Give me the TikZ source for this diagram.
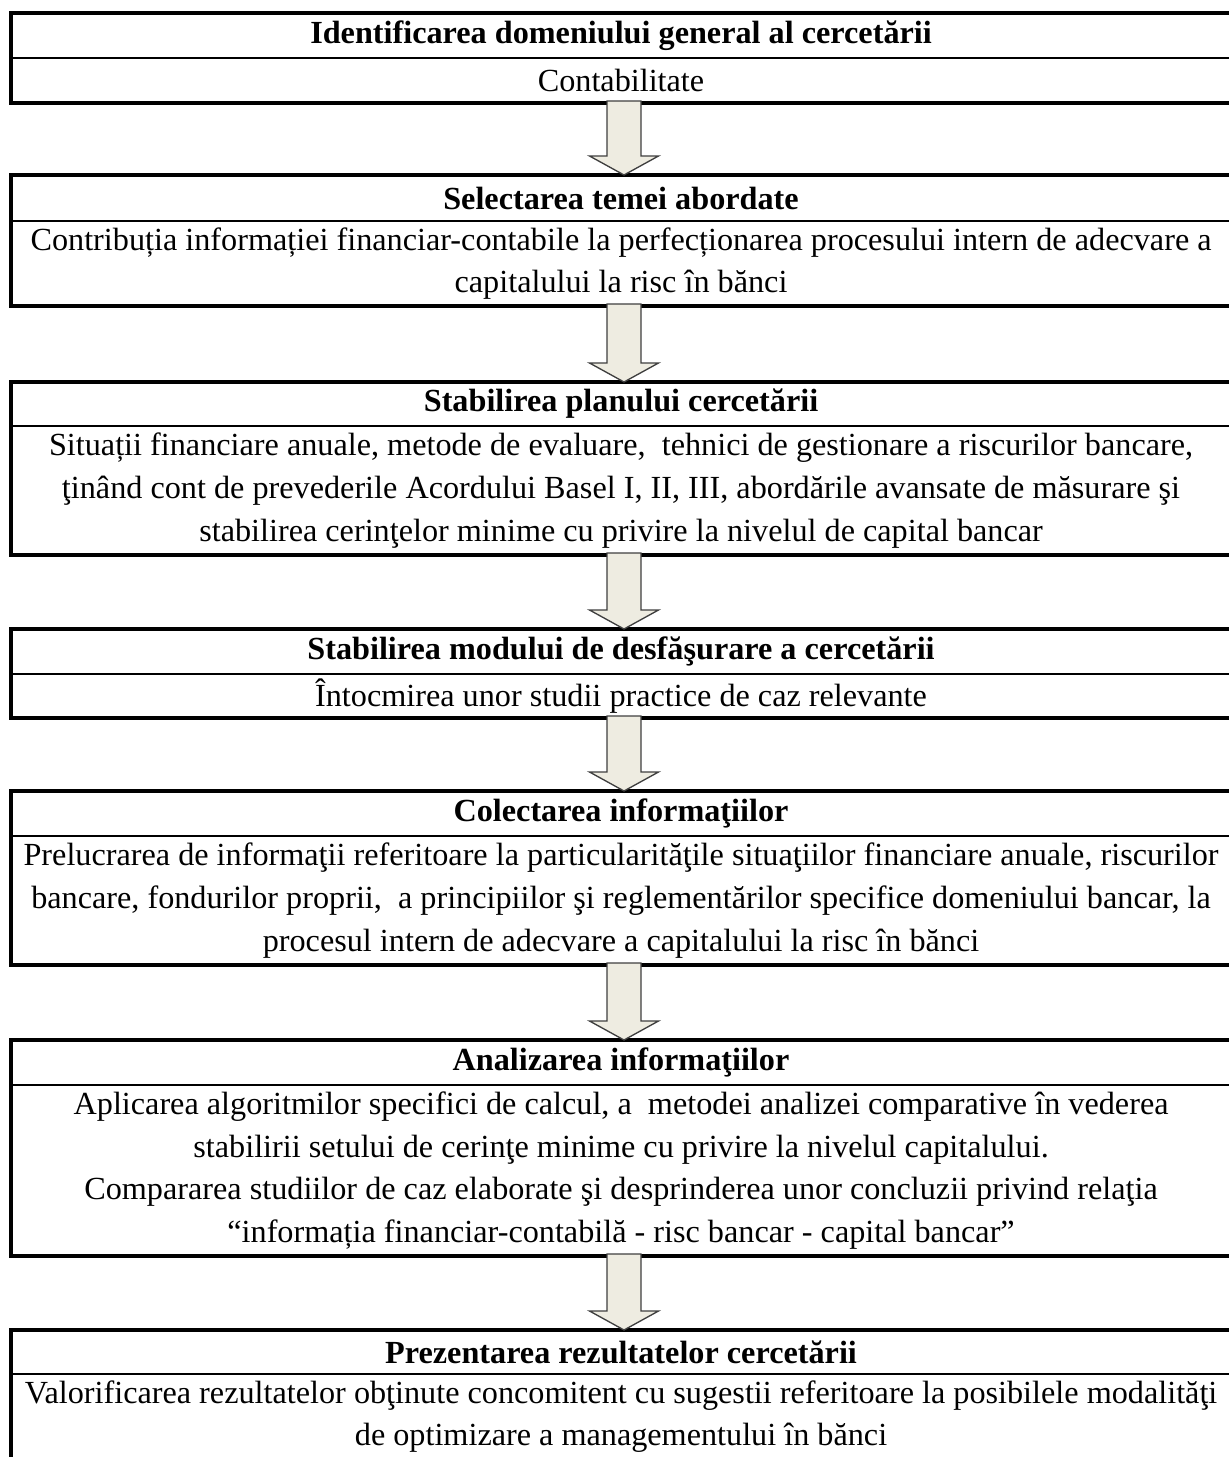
\documentclass[tikz,border=0pt]{standalone}
\usepackage{fontspec}
\setmainfont{Liberation Serif}
\usetikzlibrary{calc}
\definecolor{arrowfill}{HTML}{EEECE1}
\definecolor{arrowline}{HTML}{3F3F3F}
% block arrow from the bottom of one box to the top of the next
\newcommand{\blockarrow}[2]{%
  \draw[blockarr] ($(#1)+(-17,-2)$) -- ($(#2)+(-17,-19)$) -- ($(#2)+(-34.5,-19)$)
    -- (#2) -- ($(#2)+(34.5,-19)$) -- ($(#2)+(17,-19)$) -- ($(#1)+(17,-2)$) -- cycle;}
\tikzset{
  frame/.style={line width=1.5pt},
  midrule/.style={line width=0.75pt},
  hdr/.style={font=\fontsize{12.08}{16}\selectfont\bfseries, inner sep=0pt},
  txt/.style={font=\fontsize{12.08}{16}\selectfont, align=center, inner sep=0pt},
  blockarr/.style={draw=arrowline, fill=arrowfill, line width=0.5pt}
}
\begin{document}
\begin{tikzpicture}[x=0.375pt, y=-0.375pt]
  \useasboundingbox (0,0) rectangle (1229,1457);
  \clip (0,0) rectangle (1229,1457);

  % boxes
  \draw[frame] (11,13) rectangle (1250,103);
  \draw[midrule] (11,58) -- (1250,58);
  \draw[frame] (11,175) rectangle (1250,306);
  \draw[midrule] (11,221) -- (1250,221);
  \draw[frame] (11,382) rectangle (1250,555);
  \draw[midrule] (11,426) -- (1250,426);
  \draw[frame] (11,629) rectangle (1250,718);
  \draw[midrule] (11,674) -- (1250,674);
  \draw[frame] (11,791) rectangle (1250,965);
  \draw[midrule] (11,836) -- (1250,836);
  \draw[frame] (11,1040) rectangle (1250,1256);
  \draw[midrule] (11,1085) -- (1250,1085);
  \draw[frame] (1250,1330) -- (11,1330) -- (11,1480);
  \draw[midrule] (11,1374) -- (1250,1374);

  % texts
  \node[hdr] (h1) at (621,35.5) {Identificarea domeniului general al cercetării};
  \node[txt] (b1) at (621,80.5) {Contabilitate};
  \node[hdr] (h2) at (621,198) {Selectarea temei abordate};
  \node[txt] (b2) at (621,263.5) {Contribuția informației financiar-contabile la perfecționarea procesului intern de adecvare a\\capitalului la risc în bănci};
  \node[hdr] (h3) at (621,404) {Stabilirea planului cercetării};
  \node[txt] (b3) at (621,490.5) {Situații financiare anuale, metode de evaluare, \ tehnici de gestionare a riscurilor bancare,\\ţinând cont de prevederile Acordului Basel I, II, III, abordările avansate de măsurare şi\\stabilirea cerinţelor minime cu privire la nivelul de capital bancar};
  \node[hdr] (h4) at (621,651.5) {Stabilirea modului de desfăşurare a cercetării};
  \node[txt] (b4) at (621,696) {Întocmirea unor studii practice de caz relevante};
  \node[hdr] (h5) at (621,813.5) {Colectarea informaţiilor};
  \node[txt] (b5) at (621,900.5) {Prelucrarea de informaţii referitoare la particularităţile situaţiilor financiare anuale, riscurilor\\bancare, fondurilor proprii, \ a principiilor şi reglementărilor specifice domeniului bancar, la\\procesul intern de adecvare a capitalului la risc în bănci};
  \node[hdr] (h6) at (621,1062.5) {Analizarea informaţiilor};
  \node[txt] (b6) at (621,1170.5) {Aplicarea algoritmilor specifici de calcul, a \ metodei analizei comparative în vederea\\stabilirii setului de cerinţe minime cu privire la nivelul capitalului.\\Compararea studiilor de caz elaborate şi desprinderea unor concluzii privind relaţia\\“informația financiar-contabilă - risc bancar - capital bancar”};
  \node[hdr] (h7) at (621,1352) {Prezentarea rezultatelor cercetării};
  \node[txt] (b7) at (621,1416.5) {Valorificarea rezultatelor obţinute concomitent cu sugestii referitoare la posibilele modalităţi\\de optimizare a managementului în bănci};

  % arrow ends
  \coordinate (e1) at (624,103);
  \coordinate (s2) at (624,175);
  \coordinate (e2) at (624,306);
  \coordinate (s3) at (624,382);
  \coordinate (e3) at (624,555);
  \coordinate (s4) at (624,629);
  \coordinate (e4) at (624,718);
  \coordinate (s5) at (624,791);
  \coordinate (e5) at (624,965);
  \coordinate (s6) at (624,1040);
  \coordinate (e6) at (624,1256);
  \coordinate (s7) at (624,1330);

  \blockarrow{e1}{s2}
  \blockarrow{e2}{s3}
  \blockarrow{e3}{s4}
  \blockarrow{e4}{s5}
  \blockarrow{e5}{s6}
  \blockarrow{e6}{s7}
\end{tikzpicture}
\end{document}
